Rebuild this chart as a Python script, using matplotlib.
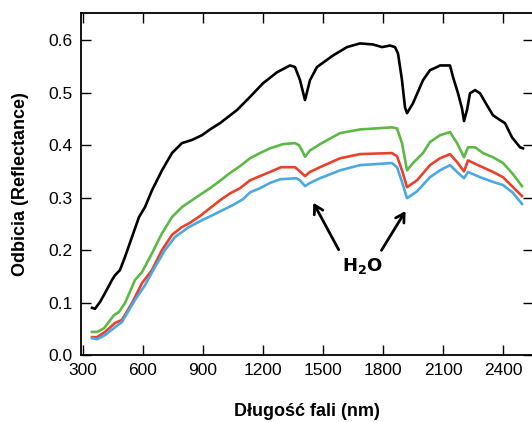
import matplotlib.pyplot as plt

# wavelength (nm) and reflectance
wl_black = [345, 360, 385, 410, 445, 460, 485, 510, 545, 580, 610, 645, 695, 745, 795, 845,
            895, 935, 985, 1070, 1135, 1200, 1270, 1335, 1360, 1385, 1410, 1435, 1470, 1550,
            1620, 1685, 1750, 1795, 1835, 1860, 1875, 1895, 1910, 1920, 1950, 2000, 2035,
            2070, 2085, 2135, 2150, 2175, 2195, 2205, 2220, 2235, 2260, 2285, 2320, 2350,
            2385, 2410, 2445, 2485, 2500]
refl_black = [0.090, 0.088, 0.101, 0.118, 0.143, 0.152, 0.162, 0.187, 0.225, 0.263, 0.282,
              0.314, 0.352, 0.385, 0.404, 0.410, 0.419, 0.430, 0.442, 0.467, 0.492, 0.518,
              0.539, 0.552, 0.549, 0.524, 0.486, 0.524, 0.549, 0.571, 0.587, 0.594, 0.592,
              0.587, 0.590, 0.587, 0.575, 0.524, 0.472, 0.461, 0.480, 0.524, 0.543, 0.549,
              0.552, 0.552, 0.530, 0.499, 0.470, 0.446, 0.467, 0.499, 0.505, 0.499, 0.476,
              0.457, 0.448, 0.442, 0.415, 0.396, 0.394]

wl_green = [345, 370, 405, 455, 480, 510, 560, 595, 645, 695, 745, 795, 860, 935, 985, 1035,
            1085, 1135, 1185, 1235, 1300, 1360, 1380, 1395, 1410, 1435, 1485, 1585, 1685,
            1845, 1870, 1895, 1920, 1950, 2000, 2035, 2085, 2135, 2170, 2205, 2225, 2260,
            2300, 2350, 2400, 2445, 2495]
refl_green = [0.044, 0.044, 0.051, 0.076, 0.082, 0.099, 0.143, 0.158, 0.194, 0.232, 0.263,
              0.282, 0.299, 0.318, 0.332, 0.347, 0.360, 0.375, 0.385, 0.394, 0.402, 0.404,
              0.400, 0.390, 0.378, 0.390, 0.402, 0.423, 0.430, 0.434, 0.432, 0.404, 0.352,
              0.366, 0.385, 0.406, 0.419, 0.425, 0.404, 0.377, 0.396, 0.396, 0.385, 0.377,
              0.366, 0.347, 0.322]

wl_red = [345, 370, 410, 460, 495, 545, 595, 645, 695, 745, 795, 835, 885, 935, 985, 1035,
          1085, 1135, 1185, 1235, 1290, 1360, 1385, 1410, 1435, 1485, 1585, 1685, 1845,
          1870, 1895, 1920, 1970, 2035, 2085, 2135, 2170, 2205, 2225, 2275, 2350, 2400,
          2450, 2495]
refl_red = [0.034, 0.034, 0.044, 0.061, 0.067, 0.099, 0.137, 0.162, 0.200, 0.229, 0.244,
            0.252, 0.265, 0.280, 0.295, 0.308, 0.318, 0.333, 0.341, 0.349, 0.358, 0.358,
            0.350, 0.341, 0.349, 0.358, 0.375, 0.383, 0.385, 0.379, 0.352, 0.320, 0.333,
            0.362, 0.375, 0.383, 0.368, 0.350, 0.371, 0.362, 0.349, 0.339, 0.320, 0.303]

wl_blue = [345, 370, 410, 460, 495, 560, 610, 660, 710, 760, 830, 895, 950, 1050, 1100,
           1135, 1185, 1235, 1285, 1365, 1385, 1410, 1435, 1485, 1585, 1685, 1845, 1870,
           1895, 1920, 1970, 2035, 2085, 2135, 2170, 2205, 2225, 2285, 2350, 2400, 2450,
           2495]
refl_blue = [0.032, 0.030, 0.038, 0.053, 0.063, 0.105, 0.133, 0.168, 0.200, 0.225, 0.244,
             0.257, 0.267, 0.286, 0.297, 0.310, 0.318, 0.328, 0.335, 0.337, 0.333, 0.322,
             0.328, 0.337, 0.352, 0.362, 0.366, 0.358, 0.330, 0.299, 0.312, 0.339, 0.352,
             0.362, 0.349, 0.337, 0.349, 0.339, 0.330, 0.324, 0.309, 0.288]

xticks = [300, 600, 900, 1200, 1500, 1800, 2100, 2400]
yticks = [0.0, 0.1, 0.2, 0.3, 0.4, 0.5, 0.6]

plt.rcParams['font.family'] = ['Liberation Sans', 'DejaVu Sans']

fig = plt.figure(figsize=(5.32, 4.22), dpi=100)
ax = fig.add_axes([81/532, 67/422, 452/532, 342/422])

ax.plot(wl_black, refl_black, color='black', lw=1.9)
ax.plot(wl_green, refl_green, color='#5cb946', lw=1.9)
ax.plot(wl_red, refl_red, color='#e8412c', lw=1.9)
ax.plot(wl_blue, refl_blue, color='#4aa9e2', lw=1.9)

ax.set_xlim(290, 2550)
ax.set_ylim(0, 0.652)
ax.set_xticks(xticks)
ax.set_yticks(yticks)
ax.set_yticklabels(['%.1f' % v for v in yticks])
ax.tick_params(direction='in', length=7, width=1, labelsize=12.5, colors='black',
               top=True, right=True, pad=6)
ax.spines['right'].set_visible(False)
for s in ['left', 'bottom', 'top']:
    ax.spines[s].set_linewidth(1.3)

ax.set_xlabel('Długość fali (nm)', fontsize=13, fontweight='bold', labelpad=18)
ax.set_ylabel('Odbicia (Reflectance)', fontsize=13, fontweight='bold', labelpad=14)

# water absorption arrows
arrow = dict(arrowstyle='->, head_length=0.6, head_width=0.35', lw=2, color='black')
ax.annotate('', xy=(1445, 0.295), xytext=(1585, 0.196), arrowprops=arrow)
ax.annotate('', xy=(1920, 0.279), xytext=(1785, 0.195), arrowprops=arrow)
ax.text(1695, 0.169, r'$\mathbf{H_2O}$', fontsize=13, ha='center', va='center')

fig.savefig('out.png', dpi=100)
